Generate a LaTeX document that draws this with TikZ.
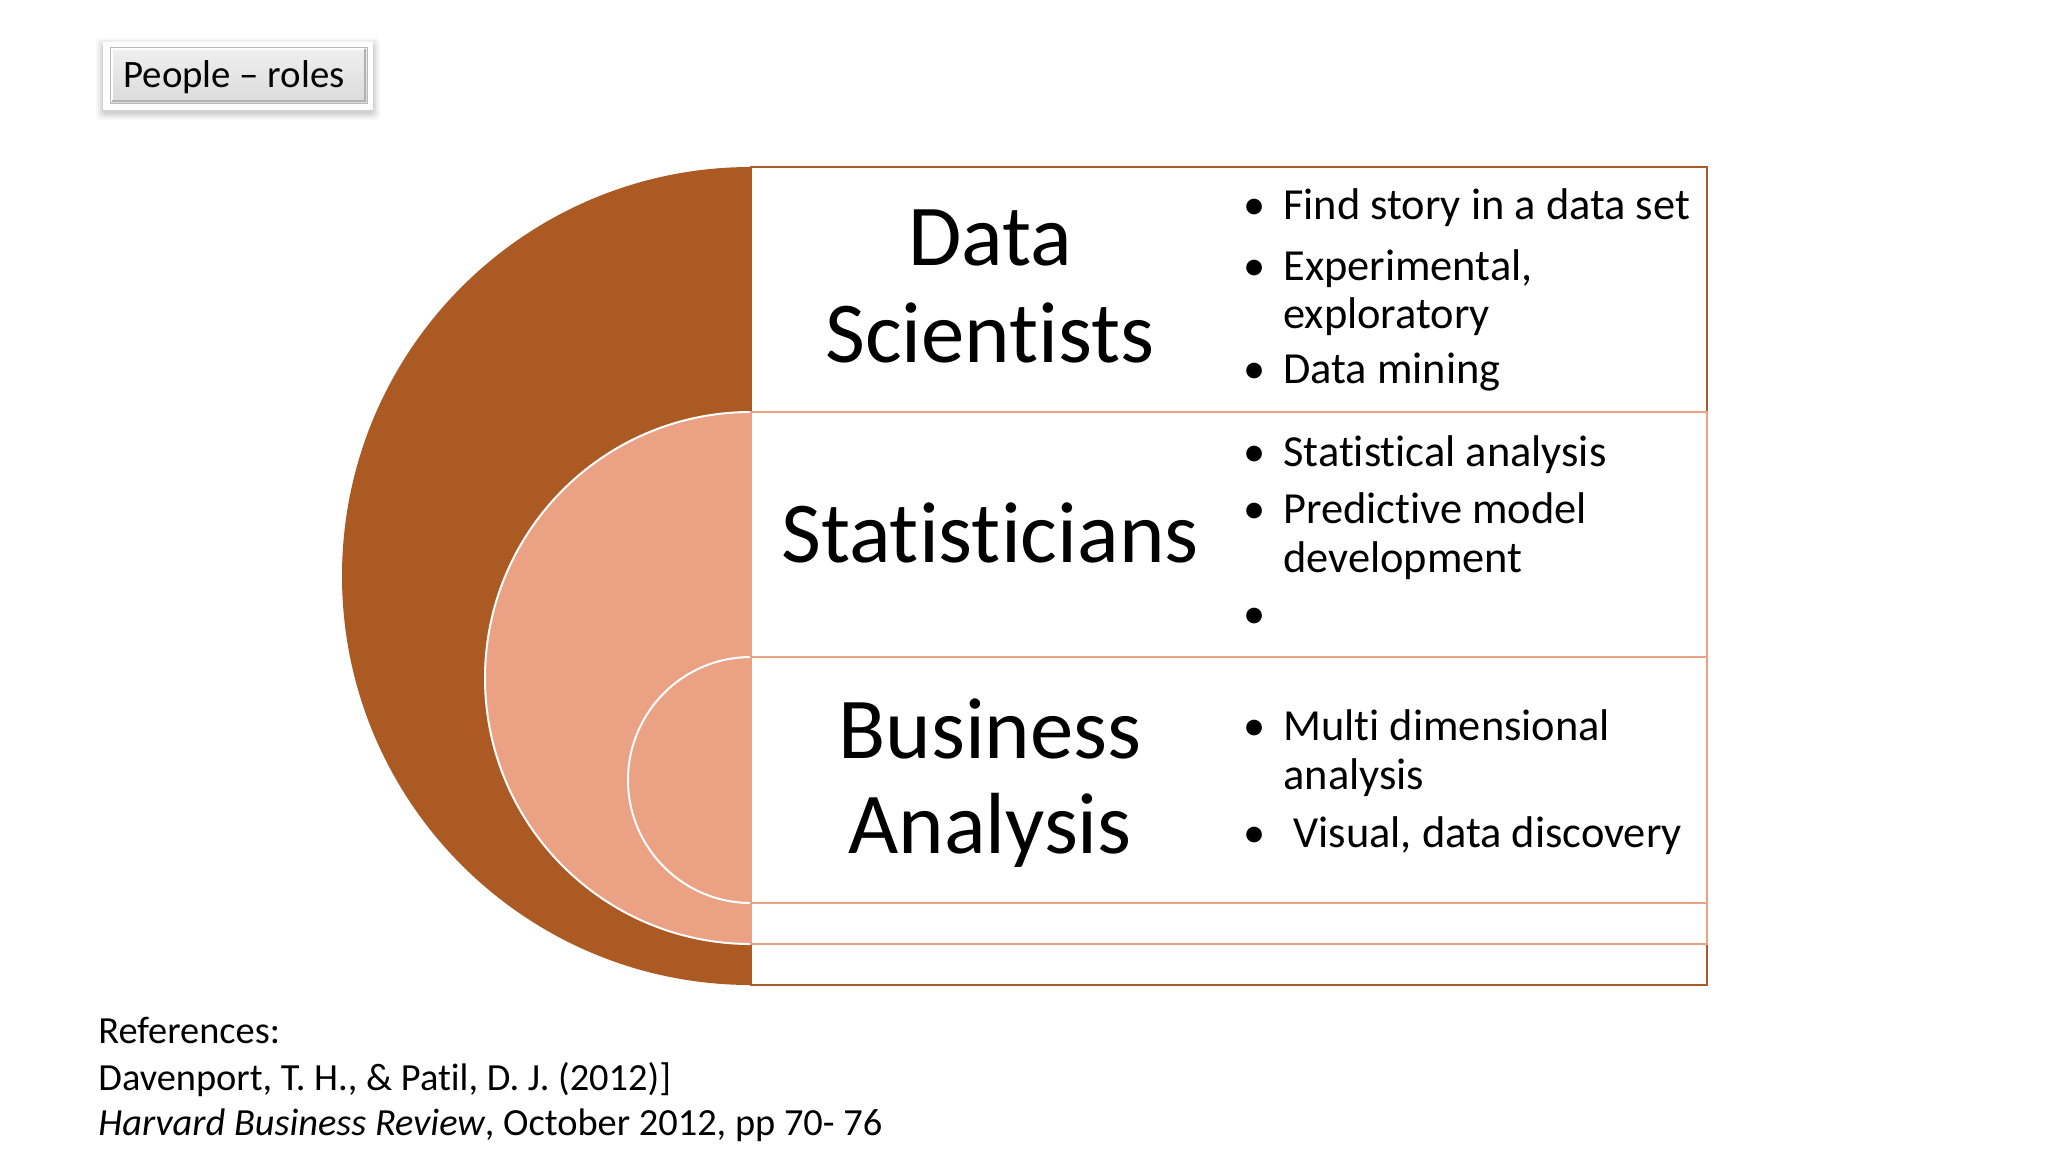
\documentclass[tikz,border=0pt]{standalone}
\usepackage{fontspec}
\setmainfont[Ligatures=NoCommon]{Carlito}
\definecolor{rust}{HTML}{AA5A22}
\definecolor{salmon}{HTML}{EBA184}
\definecolor{salmonline}{HTML}{E9A283}
\begin{document}
\begin{tikzpicture}[x=0.5pt,y=-0.5pt,
  bigtxt/.style={font=\fontsize{43.4pt}{48pt}\selectfont, anchor=base, inner sep=0pt},
  bul/.style={font=\fontsize{22.2pt}{23pt}\selectfont, anchor=base west, inner sep=0pt},
  bdot/.style={font=\fontsize{22.2pt}{23pt}\selectfont, anchor=base, inner sep=0pt},
  reftxt/.style={font=\fontsize{19.2pt}{23pt}\selectfont, anchor=base west, inner sep=0pt},
  rowbox/.style={draw=salmonline, line width=1pt, fill=white},
  arcfill/.style={fill=salmon, draw=white, line width=1pt}]
\useasboundingbox (0,0) rectangle (2048,1152);
\fill[white] (0,0) rectangle (2048,1152);

% title button
\foreach \i/\o in {7/0.03,5/0.04,3/0.05,1/0.06}{
  \fill[black,opacity=\o,rounded corners=2pt] (103-\i,42-\i+3) rectangle (373+\i,110+\i+3);
}
\fill[white] (103,42) rectangle (373,110);
\draw[draw=gray!55, line width=0.5pt, top color=gray!12, bottom color=gray!28] (110,47) rectangle (367,103);
\draw[white, line width=1pt] (112,101) -- (112,49) -- (365,49);
\draw[gray!60, line width=1pt] (112,101) -- (365,101) -- (365,49);
\node[reftxt, font=\fontsize{19.4pt}{23pt}\selectfont] (title) at (123,87) {People \textendash{} roles};

% half disks
\begin{scope}
  \clip (0,0) rectangle (751,1152);
  \fill[rust] (751,576) circle[radius=204.5pt];
  \filldraw[arcfill] (751,678) circle[radius=133pt];
  \filldraw[arcfill] (751,780) circle[radius=61.5pt];
\end{scope}

% table
\draw[rust, line width=1pt, fill=white] (751,167) rectangle (1707,985);
\draw[rowbox] (751,412) rectangle (1707,944);
\draw[rowbox] (751,657) rectangle (1707,903);

% headings
\node[bigtxt] (ds1) at (990,265) {Data};
\node[bigtxt] (ds2) at (990,362) {Scientists};
\node[bigtxt] (st) at (990,562) {Statisticians};
\node[bigtxt] (ba1) at (990,758) {Business};
\node[bigtxt] (ba2) at (990,853) {Analysis};

% bullets: data scientists
\node[bdot] (d1) at (1254.5,219) {•};
\node[bul] (t1) at (1283,219) {Find story in a data set};
\node[bdot] (d2) at (1254.5,280) {•};
\node[bul] (t2) at (1283,280) {Experimental,};
\node[bul] (t2b) at (1283,328) {exploratory};
\node[bdot] (d3) at (1254.5,383) {•};
\node[bul] (t3) at (1283,383) {Data mining};

% bullets: statisticians
\node[bdot] (d4) at (1254.5,466) {•};
\node[bul] (t4) at (1283,466) {Statistical analysis};
\node[bdot] (d5) at (1254.5,523) {•};
\node[bul] (t5) at (1283,523) {Predictive model};
\node[bul] (t5b) at (1283,572) {development};
\node[bdot] (d6) at (1254.5,628) {•};

% bullets: business analysis
\node[bdot] (d7) at (1254.5,740) {•};
\node[bul] (t7) at (1283,740) {Multi dimensional};
\node[bul] (t7b) at (1283,789) {analysis};
\node[bdot] (d8) at (1254.5,847) {•};
\node[bul] (t8) at (1293,847) {Visual, data discovery};

% references
\node[reftxt] (r1) at (98,1043) {References:};
\node[reftxt] (r2) at (98,1090) {Davenport, T. H., \& Patil, D. J. (2012)]};
\node[reftxt] (r3) at (98,1135) {\textit{Harvard Business Review}, October 2012, pp 70- 76};
\end{tikzpicture}
\end{document}
